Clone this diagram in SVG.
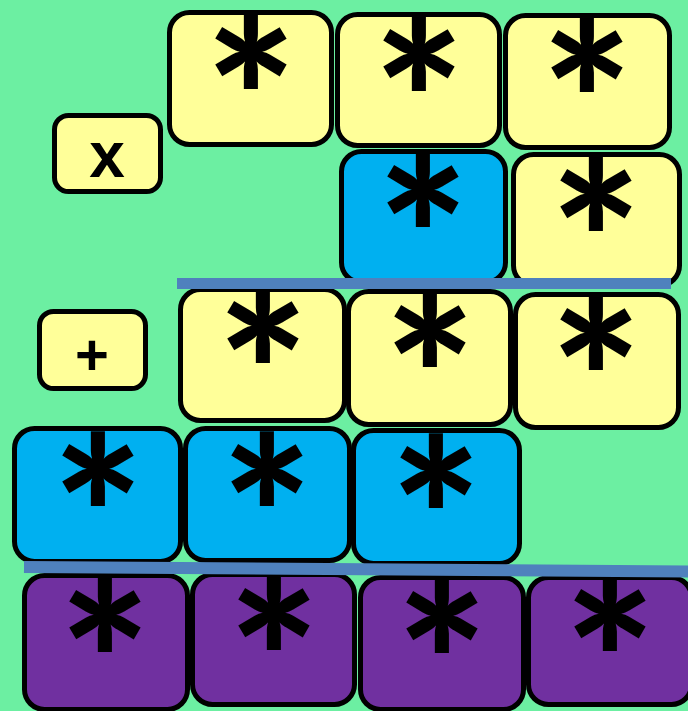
<svg xmlns="http://www.w3.org/2000/svg" width="688" height="711" viewBox="0 0 688 711">
<style>
rect.box{stroke:#000;stroke-width:5}
.y{fill:#FFFF99}.b{fill:#00B0F0}.p{fill:#7030A0}
.ast{font-family:Lato,"DejaVu Sans",sans-serif;font-weight:900;font-size:215px;text-anchor:middle;fill:#000}
.op{font-family:"Liberation Sans",Arial,sans-serif;font-weight:bold;text-anchor:middle;fill:#000}
.rule{stroke:#4F81BD;fill:none}
</style>
<rect width="688" height="711" fill="#6CEFA2"/>
<g id="opx"><rect class="box y" x="54.5" y="115.5" width="106" height="76" rx="14"/><text class="op" x="107" y="177" font-size="64">x</text></g>
<g id="opplus"><rect class="box y" x="39.5" y="311.5" width="106" height="77" rx="14"/><text class="op" x="92" y="375" font-size="58">+</text></g>
<g id="r1c1"><rect class="box y" x="169.5" y="12.5" width="162" height="132" rx="20"/><text class="ast" x="251" y="178">*</text></g>
<g id="r1c2"><rect class="box y" x="337.5" y="14.5" width="162" height="131" rx="20"/><text class="ast" x="419" y="180">*</text></g>
<g id="r1c3"><rect class="box y" x="505.5" y="15.5" width="164" height="132" rx="20"/><text class="ast" x="587" y="181">*</text></g>
<g id="r2c1"><rect class="box b" x="341.5" y="151.5" width="164" height="131" rx="20"/><text class="ast" x="423" y="316">*</text></g>
<g id="r2c2"><rect class="box y" x="513.5" y="154.5" width="166" height="131" rx="20"/><text class="ast" x="596" y="320">*</text></g>
<g id="r3c1"><rect class="box y" x="180.5" y="289.5" width="164" height="131" rx="20"/><text class="ast" x="263" y="452">*</text></g>
<g id="r3c2"><rect class="box y" x="348.5" y="291.5" width="162" height="133" rx="20"/><text class="ast" x="430" y="456">*</text></g>
<g id="r3c3"><rect class="box y" x="515.5" y="294.5" width="163" height="133" rx="20"/><text class="ast" x="596" y="459">*</text></g>
<g id="r4c1"><rect class="box b" x="14.5" y="428.5" width="166" height="133" rx="20"/><text class="ast" x="98" y="595">*</text></g>
<g id="r4c2"><rect class="box b" x="185.5" y="428.5" width="164" height="132" rx="20"/><text class="ast" x="267" y="595">*</text></g>
<g id="r4c3"><rect class="box b" x="353.5" y="430.5" width="166" height="133" rx="20"/><text class="ast" x="436" y="597">*</text></g>
<g id="r5c1"><rect class="box p" x="24.5" y="575.5" width="163" height="134" rx="20"/><text class="ast" x="105" y="741">*</text></g>
<g id="r5c2"><rect class="box p" x="192.5" y="574.5" width="162" height="130" rx="20"/><text class="ast" x="274" y="739">*</text></g>
<g id="r5c3"><rect class="box p" x="360.5" y="577.5" width="163" height="132" rx="20"/><text class="ast" x="442" y="742">*</text></g>
<g id="r5c4"><rect class="box p" x="528.5" y="577.5" width="163" height="127" rx="20"/><text class="ast" x="610" y="740">*</text></g>
<g id="connectors">
<line class="rule" x1="177" y1="283.5" x2="671" y2="283.5" stroke-width="11"/>
<line class="rule" x1="24" y1="567" x2="688" y2="571.5" stroke-width="12"/>
</g>
</svg>
